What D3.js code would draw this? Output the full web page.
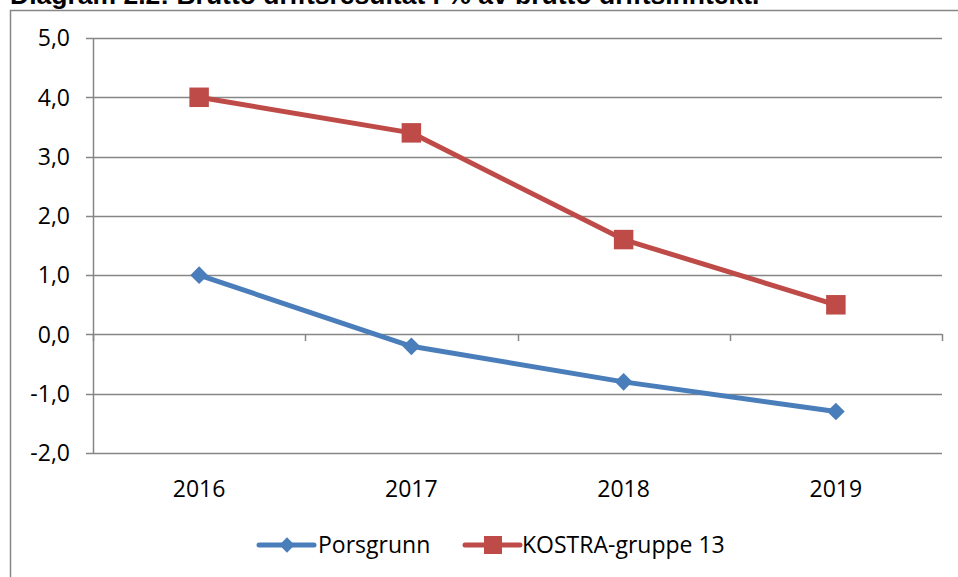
<!DOCTYPE html>
<html>
<head>
<meta charset="utf-8">
<script src="https://cdn.jsdelivr.net/npm/d3@7"></script>
<style>
  html, body { margin: 0; padding: 0; background: #fff; overflow: hidden; }
  svg { display: block; }
  .lbl { font-family: "Open Sans", "Noto Sans", sans-serif; font-size: 23px; fill: #000; }
</style>
</head>
<body>
<svg id="chart" width="958" height="577"></svg>
<script>
// data
const years = ["2016", "2017", "2018", "2019"];
const porsgrunn = [1.0, -0.2, -0.8, -1.3];
const kostra = [4.0, 3.4, 1.6, 0.5];
const yTicks = [-2, -1, 0, 1, 2, 3, 4, 5];
const seriesNames = ["Porsgrunn", "KOSTRA-gruppe 13"];

const W = 958, H = 577;
const plot = { left: 93, right: 942, top: 38, bottom: 453 };
const blue = "#4a7ebb", red = "#be4b48", grid = "#868686";

const svg = d3.select("#chart");

// outer frame + title (clipped at top like the source)
svg.append("rect").attr("x", 10.5).attr("y", 10.5).attr("width", W + 20).attr("height", H + 20)
    .attr("fill", "none").attr("stroke", grid).attr("stroke-width", 1.5);
svg.append("text").attr("x", 10).attr("y", 4)
    .style("font-family", "'Liberation Sans', Arial, sans-serif").style("font-weight", "bold").style("font-size", "26.5px")
    .text("Diagram 2.2: Brutto driftsresultat i % av brutto driftsinntekt.");

const x = d3.scaleBand().domain(years).range([plot.left, plot.right]).paddingInner(0).paddingOuter(0);
const y = d3.scaleLinear().domain([-2, 5]).range([plot.bottom, plot.top]);
const cx = d => x(d) + x.bandwidth() / 2;

// gridlines with tick stubs
svg.append("g").selectAll("line").data(yTicks).join("line")
    .attr("x1", plot.left - 7).attr("x2", plot.right)
    .attr("y1", d => Math.round(y(d)) + 0.5).attr("y2", d => Math.round(y(d)) + 0.5)
    .attr("stroke", grid).attr("stroke-width", 1.5);

// y axis line
svg.append("line").attr("x1", plot.left + 0.5).attr("x2", plot.left + 0.5)
    .attr("y1", plot.top).attr("y2", plot.bottom).attr("stroke", grid).attr("stroke-width", 1.5);

// category tick marks on zero line
const boundaries = years.map(d => x(d)).concat([plot.right]);
svg.append("g").selectAll("line").data(boundaries).join("line")
    .attr("x1", d => Math.round(d) + 0.5).attr("x2", d => Math.round(d) + 0.5)
    .attr("y1", Math.round(y(0))).attr("y2", Math.round(y(0)) + 7)
    .attr("stroke", grid).attr("stroke-width", 1.5);

// y labels
const fmt = d => d3.format(".1f")(d).replace(".", ",").replace("−", "-");
svg.append("g").selectAll("text").data(yTicks).join("text")
    .attr("class", "lbl").attr("x", 70).attr("y", d => y(d)).attr("dy", "0.36em")
    .attr("text-anchor", "end").text(fmt);

// x labels
svg.append("g").selectAll("text").data(years).join("text")
    .attr("class", "lbl").attr("x", cx).attr("y", 497)
    .attr("text-anchor", "middle").text(d => d);

// lines
const line = d3.line().x((d, i) => cx(years[i])).y(d => y(d));
const diamond = d3.symbol().type(d3.symbolDiamond2).size(200);
const square = d3.symbol().type(d3.symbolSquare).size(380);

svg.append("path").datum(porsgrunn).attr("d", line).attr("fill", "none")
    .attr("stroke", blue).attr("stroke-width", 5).attr("stroke-linejoin", "round");
svg.append("path").datum(kostra).attr("d", line).attr("fill", "none")
    .attr("stroke", red).attr("stroke-width", 5).attr("stroke-linejoin", "round");

svg.append("g").selectAll("path").data(porsgrunn).join("path")
    .attr("transform", (d, i) => `translate(${cx(years[i])},${y(d)})`)
    .attr("d", diamond).attr("fill", blue);
svg.append("g").selectAll("path").data(kostra).join("path")
    .attr("transform", (d, i) => `translate(${cx(years[i])},${y(d)})`)
    .attr("d", square).attr("fill", red);

// legend
const legend = [
  { name: seriesNames[0], color: blue, sym: d3.symbol().type(d3.symbolDiamond2).size(150), x0: 259, tx: 318 },
  { name: seriesNames[1], color: red, sym: d3.symbol().type(d3.symbolSquare).size(324), x0: 465, tx: 522 }
];
const ly = 545;
const lg = svg.append("g").selectAll("g").data(legend).join("g");
lg.append("line").attr("x1", d => d.x0).attr("x2", d => d.x0 + 55)
    .attr("y1", ly).attr("y2", ly).attr("stroke", d => d.color).attr("stroke-width", 5).attr("stroke-linecap", "round");
lg.append("path").attr("transform", d => `translate(${d.x0 + 28},${ly})`)
    .attr("d", d => d.sym()).attr("fill", d => d.color);
lg.append("text").attr("class", "lbl").attr("x", d => d.tx).attr("y", ly).attr("dy", "0.36em").text(d => d.name);
</script>
</body>
</html>
